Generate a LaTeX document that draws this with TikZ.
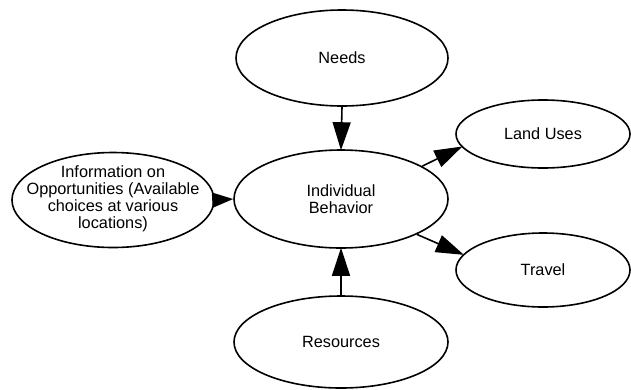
\documentclass[tikz,border=0pt]{standalone}
\usepackage{fontspec}
\setmainfont{Liberation Sans}
\usetikzlibrary{shapes.geometric,arrows.meta}
\tikzset{
  oval/.style={draw=black, ellipse, line width=1.6pt, inner sep=0pt, align=center,
    font=\fontsize{16.3pt}{17pt}\selectfont},
  conn/.style={line width=1.6pt, -{Triangle[length=28pt,width=18pt]}, shorten >=-1pt},
}
\begin{document}
\begin{tikzpicture}[x=1pt,y=-1pt]
\useasboundingbox (0,0) rectangle (631,389);
\node[oval, minimum width=212pt, minimum height=96pt] (needs) at (342,58) {Needs};
\node[oval, minimum width=214pt, minimum height=98pt] (ib) at (341,199) {Individual\\Behavior};
\node[oval, minimum width=214pt, minimum height=92pt] (res) at (341,342) {Resources};
\node[oval, minimum width=202pt, minimum height=95pt] (info) at (113,200)
  {\smash{\makebox[0pt]{\raisebox{-4pt}{\begin{tabular}{@{}c@{}}Information on\\Opportunities (Available\\choices at various\\locations)\end{tabular}}}}};
\node[oval, minimum width=174pt, minimum height=68pt] (land) at (543,134) {Land Uses};
\node[oval, minimum width=174pt, minimum height=74pt] (travel) at (543,270) {Travel};
\draw[conn] (needs.south) -- (ib.north);
\draw[conn] (res.north) -- (ib.south);
\draw[line width=1.6pt, -{Triangle[length=21pt,width=15pt]}] (info.east) -- (ib.west);
\draw[conn] (ib.22.6) -- (land.189.2);
\draw[conn] (ib.-25.3) -- (travel.169.4);
\end{tikzpicture}
\end{document}
